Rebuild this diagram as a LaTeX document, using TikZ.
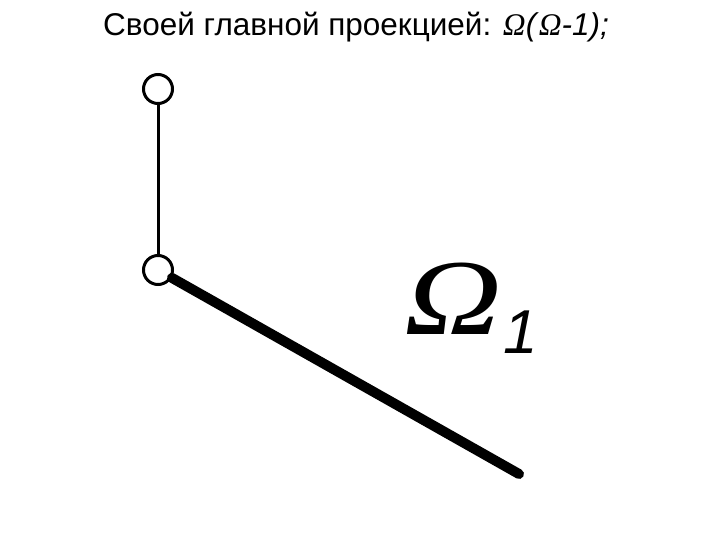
\documentclass[tikz,border=0pt]{standalone}
\usepackage{fontspec}
\setmainfont{Liberation Sans}
\newfontfamily\omegafont{Liberation Serif}
\begin{document}
\begin{tikzpicture}[x=1pt, y=-1pt,
        joint/.style={circle, draw, line width=3pt, minimum size=29pt, inner sep=0pt, fill=white},
        rod/.style={line width=10pt, line cap=round}]
        \useasboundingbox (0, 0) rectangle (720, 540);
        \node[anchor=base west, inner sep=0pt, font=\fontsize{31.5}{36}\selectfont] (title) at (103, 36) {Своей главной проекцией: {\omegafont\itshape Ω}\textit{(}{\omegafont\itshape Ω}\textit{-1);}};
        \node[joint] (top) at (158, 89) {};
        \node[joint] (bend) at (158, 270) {};
        \coordinate (tail) at (519, 474);
        \draw[line width=3pt] (top) -- (bend);
        \draw[rod] (bend) -- (tail);
        \node[anchor=base west, inner sep=0pt, xscale=1.25, font=\fontsize{108}{112}\selectfont\omegafont\itshape] (omega) at (404, 334) {Ω};
        \node[anchor=base west, inner sep=0pt, font=\fontsize{62}{70}\selectfont\itshape] (index) at (503, 353) {1};
    \end{tikzpicture}
\end{document}
